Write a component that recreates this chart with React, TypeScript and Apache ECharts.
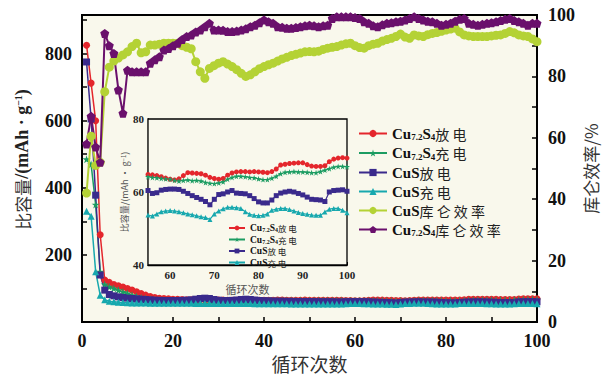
import React, { useEffect, useRef } from 'react';
import * as echarts from 'echarts';

// cycle numbers
const cycles: number[] = Array.from({ length: 100 }, (_, i) => i + 1);

// Cu7.2S4 discharge capacity (mAh/g)
const cu72Discharge: number[] = [
  825, 712, 600, 260, 125, 118, 112, 108, 104, 100,
  95, 90, 85, 80, 76, 73, 71, 70, 69, 68,
  67.5, 67, 66.5, 66.5, 66, 66.5, 66.5, 66, 65.5, 65.5,
  65.5, 65, 65, 65, 65.5, 65.5, 65, 65, 65, 64.8,
  64.8, 65, 65.2, 65.2, 65, 64.8, 64.8, 65, 65.2, 65,
  64.8, 64.8, 65, 65, 64.8, 64.7, 64.5, 64.2, 63.8, 63.5,
  63.3, 63.6, 64.5, 65.3, 65.2, 65.1, 65.0, 64.6, 64.0, 63.7,
  63.5, 63.7, 64.6, 65.2, 65.5, 65.6, 65.6, 65.5, 65.6, 65.5,
  65.4, 65.3, 65.6, 66.3, 67.4, 67.6, 67.8, 67.9, 68.0, 68.0,
  67.5, 67.1, 67.0, 67.0, 67.2, 68.3, 69.0, 69.3, 69.4, 69.3,
];

// Cu7.2S4 charge capacity
const cu72Charge: number[] = [
  485, 470, 350, 150, 112, 105, 100, 95, 90, 85,
  80, 76, 72, 70, 68, 66, 65, 64, 63.5, 63,
  63, 62.5, 62.5, 62, 62, 62, 62.3, 62.5, 62.5, 63,
  63, 63, 63.2, 63.2, 63, 63, 63.3, 63.5, 63.5, 63.5,
  63.5, 63.6, 63.8, 64, 64, 64, 64.2, 64.2, 64, 64,
  64.2, 64.3, 64.3, 64.2, 64.2, 64.0, 63.9, 63.7, 63.6, 63.5,
  63.2, 63.0, 63.2, 63.3, 63.1, 63.2, 63.0, 62.6, 62.4, 62.3,
  62.5, 62.8, 63.5, 64.0, 64.3, 64.3, 64.2, 64.0, 63.9, 63.6,
  63.4, 63.4, 63.8, 64.3, 65.0, 65.4, 65.5, 65.6, 65.5, 65.5,
  65.4, 65.3, 65.3, 65.6, 66.0, 66.4, 66.8, 67.0, 67.0, 66.9,
];

// CuS discharge capacity
const cusDischarge: number[] = [
  775, 605, 378, 140, 95, 82, 78, 75, 73, 71,
  70, 69, 68, 67, 66, 65, 64.5, 64, 64, 64,
  64, 64.5, 65, 66, 68, 70, 71, 70, 67, 65,
  64, 64, 64.5, 65.5, 67, 68, 67, 65.5, 64, 63.5,
  63, 62.5, 62, 62, 61.5, 61.5, 61, 61, 61, 61,
  60.8, 60.6, 60.5, 60.4, 60.4, 59.6, 59.8, 60.5, 60.7, 60.8,
  60.8, 60.7, 60.2, 59.6, 59.0, 58.5, 58.0, 57.4, 56.5, 58.0,
  59.3, 59.5, 60.0, 60.4, 59.7, 59.6, 59.5, 59.0, 58.2, 57.3,
  57.0, 57.0, 57.8, 59.0, 59.7, 60.0, 60.2, 60.0, 59.6, 59.2,
  58.6, 58.0, 57.9, 57.8, 57.4, 60.0, 60.4, 60.5, 60.6, 60.2,
];

// CuS charge capacity
const cusCharge: number[] = [
  330, 315, 150, 80, 66, 62, 60, 59, 58, 57.5,
  57, 57, 56.5, 56.5, 56, 56, 56, 56, 56, 56,
  55.8, 55.8, 55.6, 55.6, 55.5, 55.5, 55.5, 55.4, 55.4, 55.2,
  55.2, 55, 55, 55, 55, 54.8, 54.8, 54.6, 54.6, 54.5,
  54.5, 54.4, 54.4, 54.2, 54.2, 54, 54, 54, 53.9, 53.9,
  53.8, 53.8, 53.7, 53.7, 53.7, 53.4, 54.0, 54.6, 54.8, 54.9,
  54.8, 54.6, 54.3, 54.0, 53.8, 53.5, 53.2, 53.0, 52.5, 54.0,
  54.8, 55.4, 55.8, 55.8, 55.7, 55.5, 54.6, 53.9, 53.6, 53.5,
  53.6, 54.0, 55.0, 55.3, 55.5, 55.5, 55.2, 54.8, 54.4, 54.1,
  53.9, 53.7, 53.6, 53.6, 54.5, 55.3, 55.5, 55.5, 55.0, 54.3,
];

// CuS coulombic efficiency (%)
const cusCE: number[] = [
  42, 60.5, 51, 52, 75, 83, 85, 86, 87, 88,
  89.7, 90.8, 87.7, 88, 90.2, 90.2, 90.5, 90.8, 90.8, 90.8,
  90.8, 90, 89.5, 89, 84.8, 81.5, 79.4, 82.6, 83.5, 84.3,
  84.8, 84, 83.2, 82.2, 81, 80, 80.5, 81.5, 82.5, 83.2,
  83.8, 84.3, 85, 85.7, 86.2, 86.8, 87.2, 87.6, 88, 88.1,
  88, 88.2, 88.8, 89.2, 89.5, 89.7, 90.2, 90.6, 90.8, 90,
  89.4, 89.2, 90, 90.5, 90.8, 91.5, 92, 92.4, 93, 93.8,
  92.8, 92.4, 93.5, 93.2, 93, 93.6, 94, 94.3, 94.7, 95.1,
  95.4, 95.7, 94.5, 93.5, 93.2, 93, 93, 93, 93, 93.2,
  93.4, 93.5, 94, 94.6, 94.2, 93.5, 93.2, 93, 92.2, 91.3,
];

// Cu7.2S4 coulombic efficiency (%)
const cu72CE: number[] = [
  58, 67, 57, 52, 94, 90, 87.5, 75.6, 68, 82,
  81.5, 81.5, 81.5, 81.5, 84.3, 85.4, 86.4, 88.6, 89.1, 90,
  90.8, 92, 93, 93.5, 94.5, 95.1, 96.2, 97.3, 95.1, 95.1,
  95, 94.6, 94.6, 94.8, 95.1, 95.5, 96.2, 96.7, 97.5, 98.4,
  97.8, 97.3, 96.2, 96, 95.7, 95.7, 95.9, 96.2, 96.5, 96.7,
  96.5, 96.2, 96.5, 96.7, 98.9, 99.4, 99.4, 99.4, 99.4, 99.2,
  98.9, 97.8, 97.3, 96.5, 96.2, 96.8, 97.3, 97.5, 97.8, 98,
  98.4, 98.9, 99.4, 98.9, 98.4, 98, 97.8, 97.3, 96.7, 97,
  97.3, 98, 98.6, 98.9, 97.3, 97, 96.7, 97, 97.3, 97.5,
  97.8, 98.2, 98.6, 98.9, 98.2, 97.8, 97.3, 96.7, 97.3, 97.3,
];

const names = ['Cu7.2S4放电', 'Cu7.2S4充电', 'CuS放电', 'CuS充电', 'CuS库仑效率', 'Cu7.2S4库仑效率'];
const insetStart = 55;

const STAR = 'path://M50,0 L61,35 L98,35 L68,57 L79,91 L50,70 L21,91 L32,57 L2,35 L39,35 Z';
const PENTA = 'path://M50,0 L100,38 L81,100 L19,100 L0,38 Z';

const SERIF = '"Liberation Serif", "Times New Roman", serif';
const CJK = '"Noto Sans CJK SC", sans-serif';

const legendRich = (big: number, small: number, lh: number) => ({
  b: { fontFamily: SERIF, fontWeight: 'bold', fontSize: big, color: '#111', lineHeight: lh },
  s: { fontFamily: SERIF, fontWeight: 'bold', fontSize: small, color: '#111', lineHeight: small + 1, verticalAlign: 'bottom' },
  c: { fontFamily: CJK, fontSize: big - 1, color: '#222', lineHeight: lh },
});

const legendLabel: Record<string, string> = {
  'Cu7.2S4放电': '{b|Cu}{s|7.2}{b|S}{s|4}{c|放 电}',
  'Cu7.2S4充电': '{b|Cu}{s|7.2}{b|S}{s|4}{c|充 电}',
  'CuS放电': '{b|CuS}{c|放 电}',
  'CuS充电': '{b|CuS}{c|充 电}',
  'CuS库仑效率': '{b|CuS}{c|库 仑 效 率}',
  'Cu7.2S4库仑效率': '{b|Cu}{s|7.2}{b|S}{s|4}{c|库 仑 效 率}',
};

const colors = ['#E4262C', '#1C9C62', '#3A2A8C', '#17A8AE', '#B4D235', '#6A106C'];
const symbols = ['circle', STAR, 'rect', 'triangle', 'circle', PENTA];
const capData = [cu72Discharge, cu72Charge, cusDischarge, cusCharge];
const ceData = [cusCE, cu72CE];

function pairs(arr: number[], from = 1) {
  return cycles.filter((c) => c >= from).map((c) => [c, arr[c - 1]]);
}

export default function App() {
  const ref = useRef<HTMLDivElement>(null);
  useEffect(() => {
    const chart = echarts.init(ref.current!, null, { renderer: 'svg' });
    const series: any[] = [];
    capData.forEach((arr, i) => {
      series.push({
        name: names[i], type: 'line', xAxisIndex: 0, yAxisIndex: 0,
        data: pairs(arr), symbol: symbols[i], symbolSize: i === 1 ? 8 : 7,
        itemStyle: { color: colors[i] }, lineStyle: { color: colors[i], width: 1.5 }, z: 3,
      });
    });
    ceData.forEach((arr, j) => {
      const i = 4 + j;
      series.push({
        name: names[i], type: 'line', xAxisIndex: 0, yAxisIndex: 1,
        data: pairs(arr), symbol: symbols[i], symbolSize: 9,
        itemStyle: { color: colors[i] }, lineStyle: { color: colors[i], width: 2 }, z: 4,
      });
    });
    capData.forEach((arr, i) => {
      series.push({
        name: names[i], type: 'line', xAxisIndex: 1, yAxisIndex: 2,
        data: pairs(arr, insetStart), symbol: symbols[i], symbolSize: i === 1 ? 6 : 5,
        itemStyle: { color: colors[i] }, lineStyle: { color: colors[i], width: 1.2 }, z: 10,
      });
    });

    const tickLabel = { fontFamily: SERIF, fontWeight: 'bold', fontSize: 18, color: '#111' };
    const smallLabel = { fontFamily: SERIF, fontWeight: 'bold', fontSize: 11, color: '#222' };
    const axisLine = { show: true, lineStyle: { color: '#000', width: 2 } };
    const insetLine = { show: true, lineStyle: { color: '#000', width: 1.3 } };

    chart.setOption({
      animation: false,
      backgroundColor: '#fff',
      grid: [
        { left: 82, right: 65, top: 15, bottom: 55, outerBoundsMode: 'none', containLabel: false, show: true, backgroundColor: '#F9F8EC', borderColor: '#000', borderWidth: 2, z: 0 },
        { left: 148, width: 199, top: 119, height: 146, outerBoundsMode: 'none', containLabel: false, show: true, backgroundColor: '#F9F8EC', borderColor: '#000', borderWidth: 1.3, z: 8 },
      ],
      legend: [
        {
          data: names, orient: 'vertical', left: 353, top: 121, itemGap: 4,
          itemWidth: 28, itemHeight: 9,
          formatter: (n: string) => legendLabel[n],
          textStyle: { rich: legendRich(15, 9, 16) },
          selectedMode: false, z: 20,
        },
        {
          data: names.slice(0, 4), orient: 'vertical', left: 223, top: 218, itemGap: 1.5,
          itemWidth: 16, itemHeight: 6,
          formatter: (n: string) => legendLabel[n],
          textStyle: { rich: legendRich(9.5, 6, 10) },
          selectedMode: false, z: 20,
        },
      ],
      xAxis: [
        {
          type: 'value', gridIndex: 0, min: 0, max: 100, interval: 10,
          axisLine, axisTick: { inside: true, length: 5, lineStyle: { color: '#000', width: 1.5 } },
          splitLine: { show: false },
          axisLabel: { ...tickLabel, margin: 10, formatter: (v: number) => (v % 20 === 0 ? String(v) : '') },
          name: '循环次数', nameLocation: 'middle', nameGap: 32, nameMoveOverlap: false,
          nameTextStyle: { fontFamily: CJK, fontSize: 19, color: '#333' },
        },
        {
          type: 'value', gridIndex: 1, min: 55, max: 100,
          axisLine: insetLine,
          axisTick: { inside: true, length: 3, customValues: [60, 70, 80, 90, 100], lineStyle: { color: '#000' } },
          splitLine: { show: false },
          axisLabel: { ...smallLabel, margin: 4, customValues: [60, 70, 80, 90, 100] },
          name: '循环次数', nameLocation: 'middle', nameGap: 18, nameMoveOverlap: false,
          nameTextStyle: { fontFamily: CJK, fontSize: 11, color: '#555' },
        },
      ],
      yAxis: [
        {
          type: 'value', gridIndex: 0, min: 0, max: 915, interval: 100, position: 'left',
          axisLine, axisTick: { inside: true, length: 5, lineStyle: { color: '#000', width: 1.5 } },
          splitLine: { show: false },
          axisLabel: { ...tickLabel, margin: 10, formatter: (v: number) => (v > 0 && v % 200 === 0 ? String(v) : '') },
          name: '{c|比容量}{b|/(mAh · g}{p|−1}{b|)}', nameLocation: 'middle', nameGap: 51, nameMoveOverlap: false,
          nameTextStyle: {
            padding: [0, 0, 0, 18],
            rich: {
              c: { fontFamily: CJK, fontSize: 17, color: '#333' },
              b: { fontFamily: SERIF, fontWeight: 'bold', fontSize: 18, color: '#222' },
              p: { fontFamily: SERIF, fontWeight: 'bold', fontSize: 10, color: '#222', verticalAlign: 'top' },
            },
          },
        },
        {
          type: 'value', gridIndex: 0, min: 0, max: 100, interval: 10, position: 'right',
          axisLine, axisTick: { inside: true, length: 5, lineStyle: { color: '#000', width: 1.5 } },
          splitLine: { show: false },
          axisLabel: { ...tickLabel, margin: 11, formatter: (v: number) => (v % 20 === 0 ? String(v) : '') },
          name: '库仑效率/%', nameLocation: 'middle', nameGap: 45, nameMoveOverlap: false,
          nameTextStyle: { fontFamily: CJK, fontSize: 17, color: '#333' },
        },
        {
          type: 'value', gridIndex: 1, min: 40, max: 80, interval: 10,
          axisLine: insetLine, axisTick: { inside: true, length: 3, lineStyle: { color: '#000' } },
          splitLine: { show: false },
          axisLabel: { ...smallLabel, margin: 4, formatter: (v: number) => (v % 20 === 0 ? String(v) : '') },
          name: '{c|比容量/(mAh · g}{p|−1}{c|)}', nameLocation: 'middle', nameGap: 19, nameMoveOverlap: false,
          nameTextStyle: {
            rich: {
              c: { fontFamily: CJK, fontSize: 9, color: '#555' },
              p: { fontFamily: CJK, fontSize: 6, color: '#555', verticalAlign: 'top' },
            },
          },
        },
      ],
      series,
    });
    return () => chart.dispose();
  }, []);
  return <div ref={ref} style={{ position: 'absolute', left: 0, top: 0, width: 602, height: 377 }} />;
}
